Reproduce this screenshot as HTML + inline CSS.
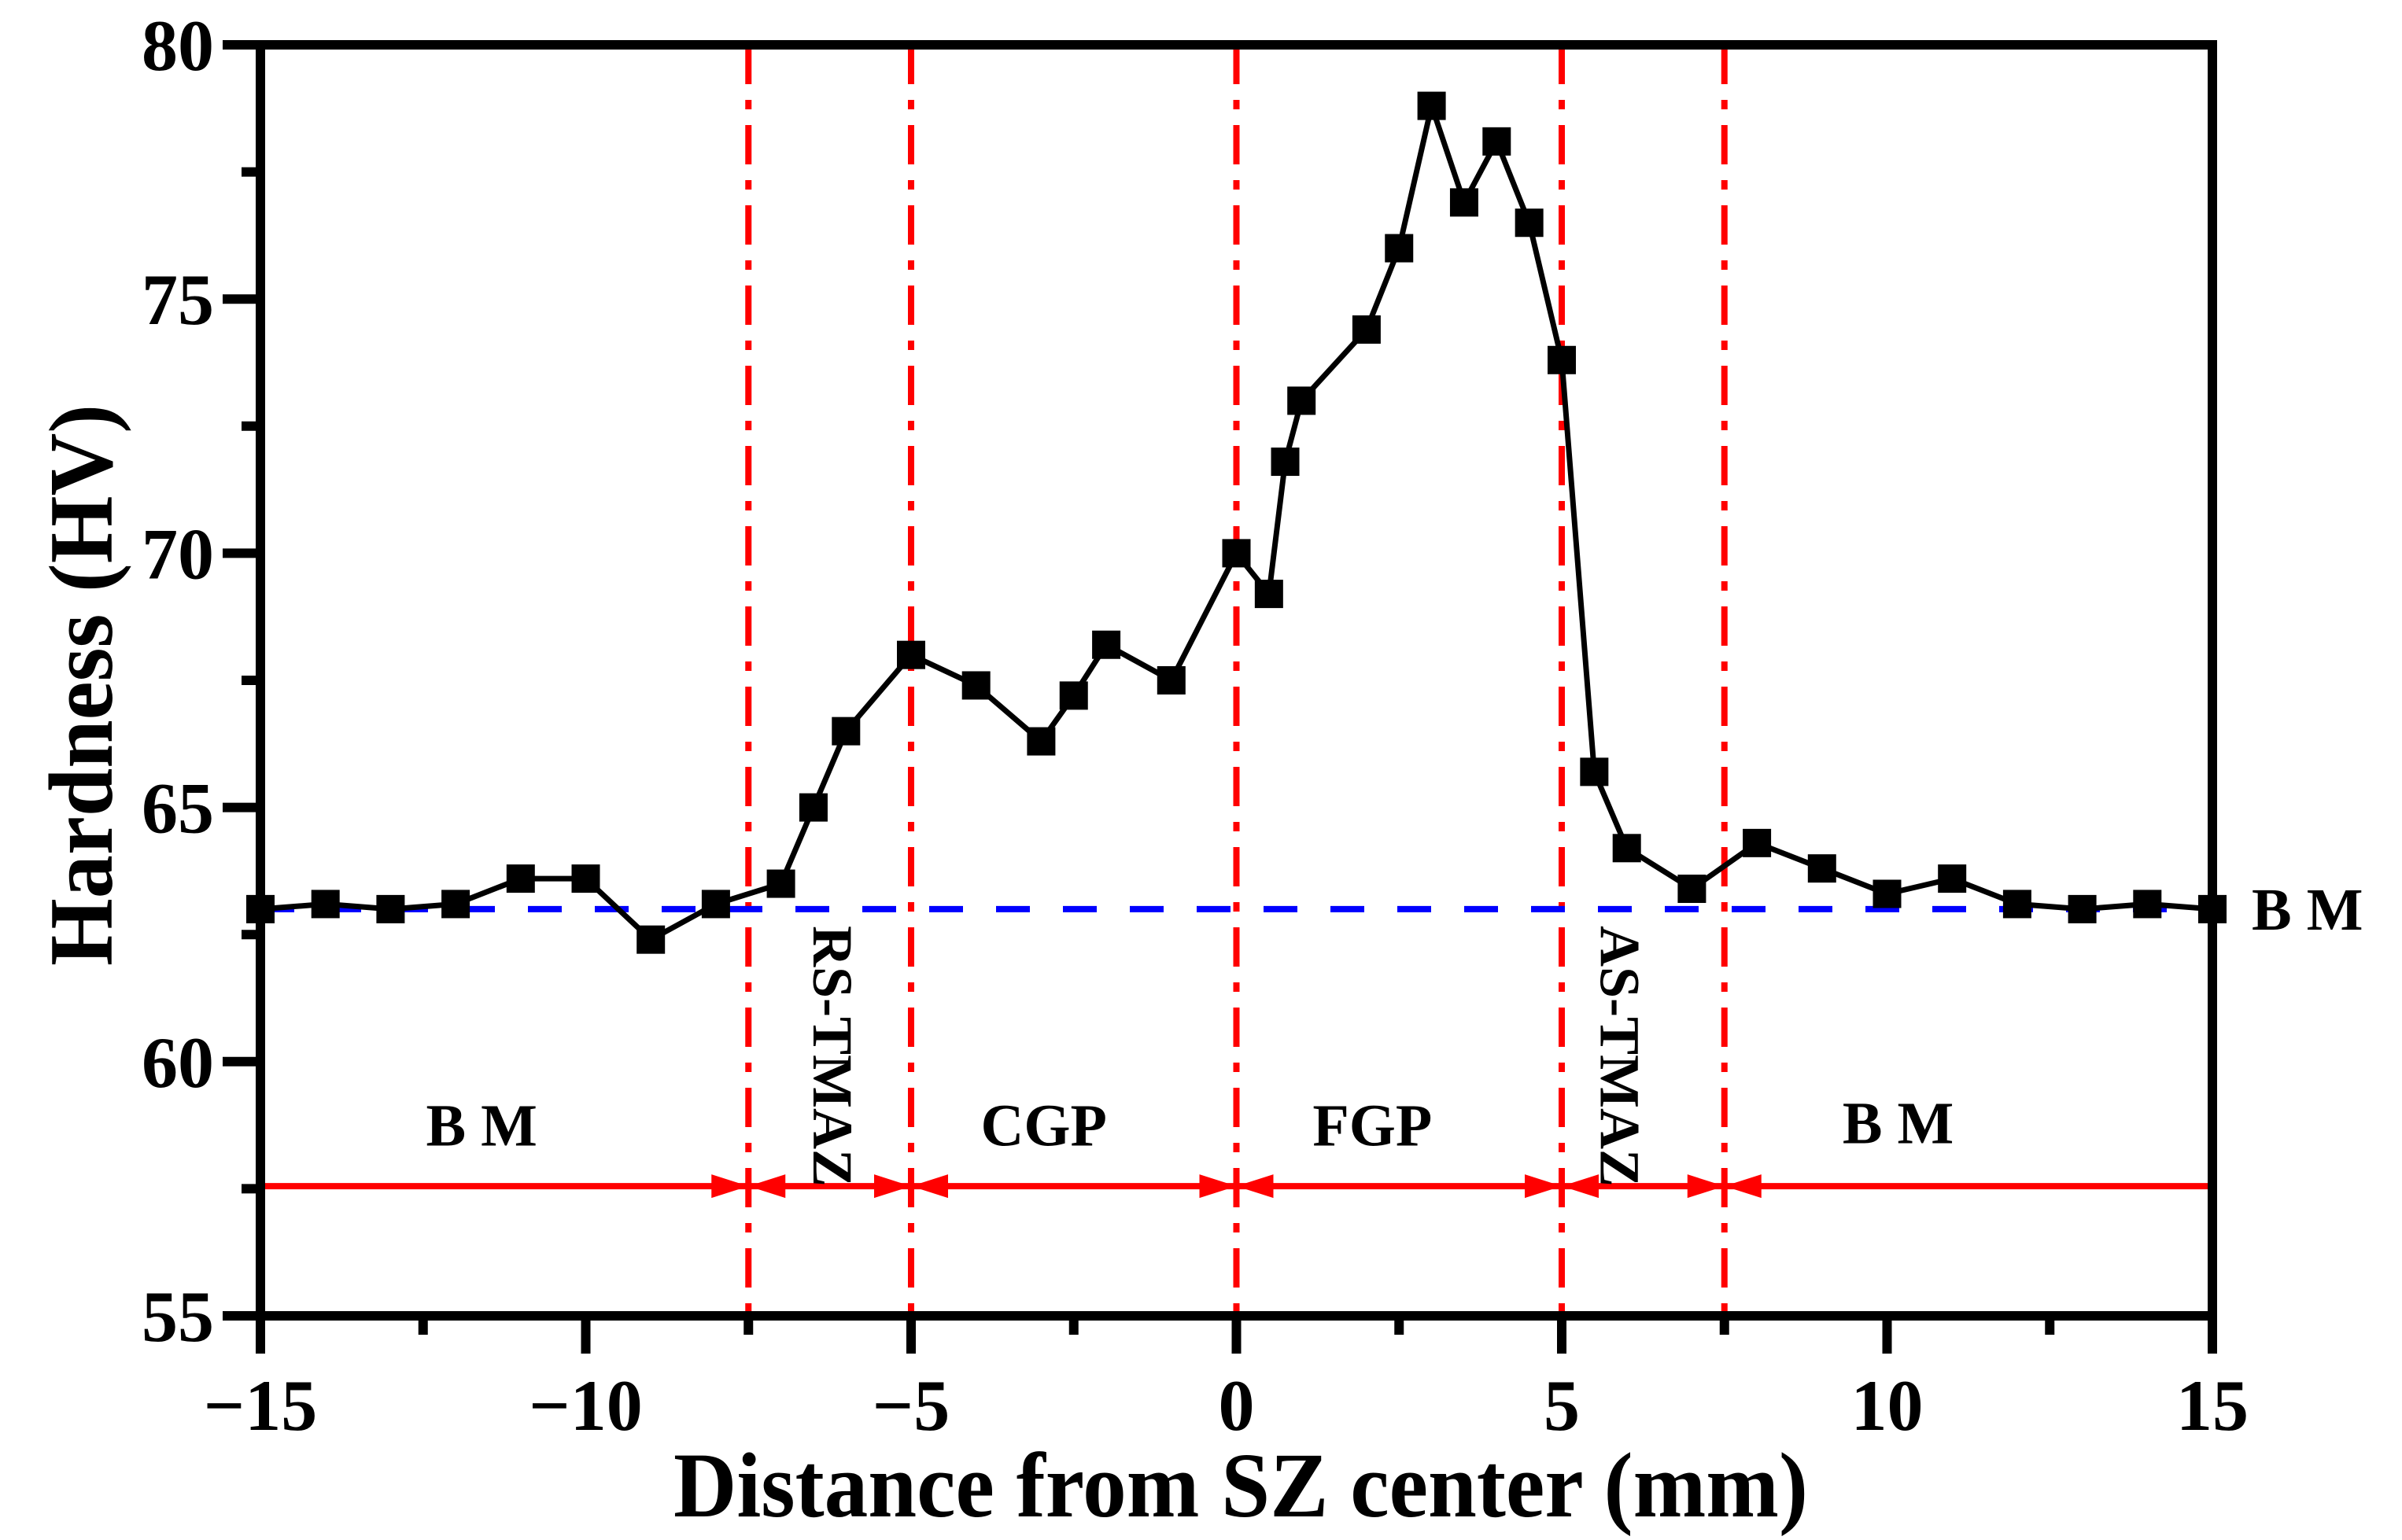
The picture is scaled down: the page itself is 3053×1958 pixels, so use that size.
<!DOCTYPE html>
<html><head><meta charset="utf-8"><style>
html,body{margin:0;padding:0;background:#fff}
svg{display:block}
text{font-family:"Liberation Serif",serif;font-weight:bold;fill:#000}
</style></head><body>
<svg id="chart" width="3053" height="1958" viewBox="0 0 3053 1958" xmlns="http://www.w3.org/2000/svg"></svg>
<script>
const xs = [-15,-14,-13,-12,-11,-10,-9,-8,-7,-6.5,-6,-5,-4,-3,-2.5,-2,-1,0,0.5,0.75,1,2,2.5,3,3.5,4,4.5,5,5.5,6,7,8,9,10,11,12,13,14,15];
const hv = [63.0,63.1,63.0,63.1,63.6,63.6,62.4,63.1,63.5,65.0,66.5,68.0,67.4,66.3,67.2,68.2,67.5,70.0,69.2,71.8,73.0,74.4,76.0,78.8,76.9,78.1,76.5,73.8,65.7,64.2,63.4,64.3,63.8,63.3,63.6,63.1,63.0,63.1,63.0];
const xTicks = [-15,-10,-5,0,5,10,15];
const yTicks = [55,60,65,70,75,80];
const boundaries = [-7.5,-5,0,5,7.5];
const bmLevel = 63.0;
const arrowLevel = 57.55;
const zoneNames = ["B M","CGP","FGP","B M"];
const zoneX = [-11.6,-2.96,2.09,10.17];
const zoneY = [58.75,58.75,58.75,58.8];
const tmazNames = ["RS-TMAZ","AS-TMAZ"];
const tmazX = [-6.2,5.9];

const L=331,R=2812,T=57,B=1673;
const X=v=>L+(v+15)/30*(R-L);
const Y=v=>B-(v-55)/25*(B-T);
const svg=document.getElementById('chart');
const NS='http://www.w3.org/2000/svg';
function mk(tag,attrs,parent){const e=document.createElementNS(NS,tag);for(const k in attrs)e.setAttribute(k,attrs[k]);(parent||svg).appendChild(e);return e;}

boundaries.forEach(b=>{
  const l=mk('line',{x1:X(b),x2:X(b),y1:T,y2:B,stroke:'#ff0000','stroke-width':8,'stroke-dasharray':'50 20 12 20'});
  
  
});
const bl=mk('line',{x1:L,x2:R,y1:Y(bmLevel),y2:Y(bmLevel),stroke:'#0000ff','stroke-width':8,'stroke-dasharray':'43 42'});



const edges=[-15].concat(boundaries).concat([15]);
const ay=Y(arrowLevel);
for(let i=0;i<edges.length-1;i++){
  const a=X(edges[i]),b=X(edges[i+1]);
  const g=mk('g',{});
  
  
  mk('line',{x1:a,x2:b,y1:ay,y2:ay,stroke:'#ff0000','stroke-width':8},g);
  if(i>0) mk('polygon',{points:`${a},${ay} ${a+47},${ay-15} ${a+47},${ay+15}`,fill:'#ff0000'},g);
  if(i<edges.length-2) mk('polygon',{points:`${b},${ay} ${b-47},${ay-15} ${b-47},${ay+15}`,fill:'#ff0000'},g);
}

zoneNames.forEach((n,i)=>{
  const t=mk('text',{x:X(zoneX[i]),y:Y(zoneY[i])+26,'font-size':76,'text-anchor':'middle'});
  t.textContent=n;
  
  
});
tmazNames.forEach((n,i)=>{
  const x=X(tmazX[i]),y=1177;
  const t=mk('text',{x:0,y:0,'font-size':72,transform:`translate(${x-25},${y}) rotate(90)`});
  t.textContent=n;
  
  
});

const pts=xs.map((x,i)=>X(x)+','+Y(hv[i])).join(' ');
const pl=mk('polyline',{points:pts,fill:'none',stroke:'#000','stroke-width':7,'stroke-linejoin':'round'});


xs.forEach((x,i)=>{
  const r=mk('rect',{x:X(x)-18,y:Y(hv[i])-18,width:36,height:36,fill:'#000'});
  
  
});

const fr=mk('rect',{x:L,y:T,width:R-L,height:B-T,fill:'none',stroke:'#000','stroke-width':12});



for(let v=-15;v<=15;v+=2.5){
  const major=Math.abs(v%5)<1e-9;
  const t=mk('line',{x1:X(v),x2:X(v),y1:B,y2:B+(major?48:24),stroke:'#000','stroke-width':12});
  
  
}
xTicks.forEach(v=>{
  const t=mk('text',{x:X(v),y:1818,'font-size':92,'text-anchor':'middle'});
  t.textContent=(v<0?'\u2212':'')+Math.abs(v);
  
  
});
for(let v=55;v<=80;v+=2.5){
  const major=Math.abs(v%5)<1e-9;
  const t=mk('line',{x1:L,x2:L-(major?48:24),y1:Y(v),y2:Y(v),stroke:'#000','stroke-width':12});
  
  
}
yTicks.forEach(v=>{
  const t=mk('text',{x:272,y:Y(v)+32,'font-size':92,'text-anchor':'end'});
  t.textContent=v;
  
  
});

const br=mk('text',{x:2862,y:Y(bmLevel)+26,'font-size':76});
br.textContent='B M';



const xt=mk('text',{x:1577,y:1928,'font-size':118,'text-anchor':'middle',textLength:1442,lengthAdjust:'spacingAndGlyphs'});
xt.textContent='Distance from SZ center (mm)';


const yt=mk('text',{x:0,y:0,'font-size':116,'text-anchor':'middle',textLength:714,lengthAdjust:'spacingAndGlyphs',transform:'translate(142,871) rotate(-90)'});
yt.textContent='Hardness (HV)';


</script>
</body></html>
